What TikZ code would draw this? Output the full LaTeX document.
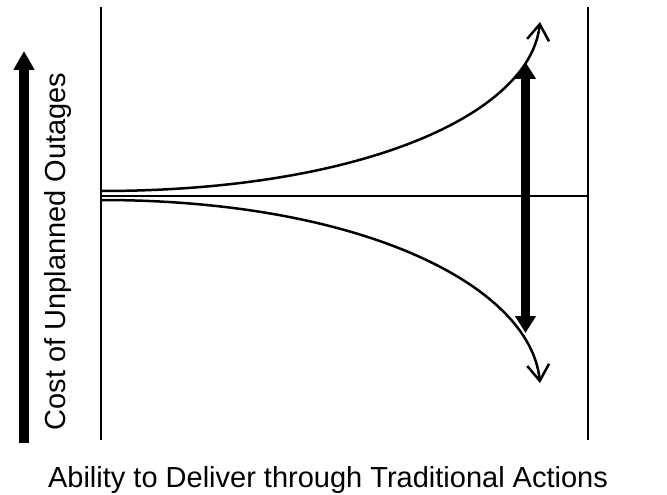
\documentclass[tikz,border=0pt]{standalone}
\usepackage{fontspec}
\setmainfont{Liberation Sans}
\usetikzlibrary{arrows.meta}
\begin{document}
\begin{tikzpicture}[x=1pt,y=-1pt,
  frame/.style={line width=1.3pt},
  curve/.style={line width=2.5pt,-{Straight Barb[length=16pt,width=22pt]}},
  bigarrow/.style={line width=9pt,{Triangle[length=17pt,width=20pt]}-{Triangle[length=17pt,width=20pt]}},
  axisarrow/.style={line width=10pt,-{Triangle[length=19pt,width=20pt]}},
  lbl/.style={font=\fontsize{29}{34}\selectfont,inner sep=0pt}]
\useasboundingbox (0,0) rectangle (667,495);
% frame coordinates
\coordinate (LT) at (101,7);
\coordinate (LB) at (101,440);
\coordinate (RT) at (588,7);
\coordinate (RB) at (588,440);
\coordinate (HL) at (101,196);
\coordinate (HR) at (588,196);
\draw[frame] (LT) -- (LB);
\draw[frame] (RT) -- (RB);
\draw[frame] (HL) -- (HR);
% curves
\coordinate (US) at (101,191);
\coordinate (UE) at (540,22);
\coordinate (DS) at (101,200);
\coordinate (DE) at (540,383);
\draw[curve] (US) .. controls (360,191) and (530,115) .. (UE);
\draw[curve] (DS) .. controls (360,200) and (530,285) .. (DE);
% thick double arrow
\coordinate (BT) at (525.5,62);
\coordinate (BB) at (525.5,333);
\draw[bigarrow] (BB) -- (BT);
% left axis arrow
\coordinate (AB) at (24,443);
\coordinate (AT) at (24,51);
\draw[axisarrow] (AB) -- (AT);
% labels
\node[lbl,rotate=90,anchor=base] (ylab) at (65,251.5) {Cost of Unplanned Outages};
\node[lbl,anchor=base] (xlab) at (328,487) {Ability to Deliver through Traditional Actions};
\end{tikzpicture}
\end{document}
